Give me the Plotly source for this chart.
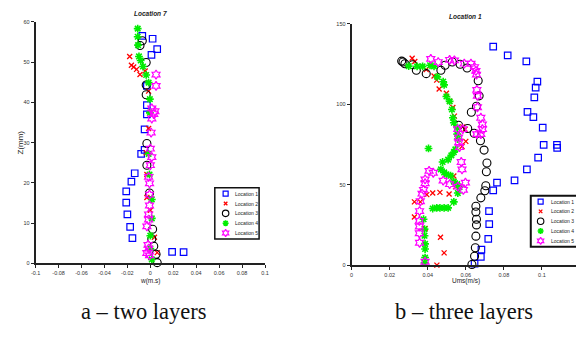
import plotly.graph_objects as go

# The page body adds an 8 px margin, so the figure is built 8 px smaller and
# every target pixel position is shifted by that offset.
PAGE_W, PAGE_H = 584, 348
OFF = 8
W, H = PAGE_W - OFF, PAGE_H - OFF

# ---------------- data: panel a (two layers), w (m/s) vs Z (mm) ----------------
a_loc1_x = [-0.007, 0.002, 0.006, 0.001, -0.003, -0.003, -0.003, -0.005, -0.005, -0.008, -0.0136, -0.0165, -0.021, -0.021, -0.020, -0.0176, -0.0156, 0.019, 0.029]
a_loc1_z = [56.5, 55.8, 53.2, 51.8, 44.1, 39.3, 37.0, 33.3, 28.2, 27.2, 22.4, 20.3, 17.9, 15.1, 12.2, 9.1, 6.3, 2.9, 2.8]
a_loc2_x = [-0.018, -0.0165, -0.0145, -0.012, -0.009, -0.0045, -0.0015, -0.0015, -0.0036, -0.003, -0.003, 0.0, 0.0036, 0.006]
a_loc2_z = [51.4, 49.2, 48.8, 48.2, 46.9, 47.8, 42.8, 33.5, 27.5, 22.1, 16.4, 13.2, 6.5, 2.7]
a_loc3_x = [-0.007, -0.009, -0.0036, -0.0036, -0.0036, -0.003, -0.003, -0.0007, 0.002, 0.0013, 0.003, 0.005, 0.006]
a_loc3_z = [55.3, 54.1, 49.9, 44.3, 41.9, 29.8, 24.4, 17.5, 8.5, 6.1, 4.3, 2.3, 0.2]
a_loc4_x = [-0.011, -0.011, -0.0107, -0.0099, -0.0084, -0.0064, -0.0036, -0.0015, -0.0004, -0.0004, -0.0015, -0.0007, 0.0013, 0.0013, 0.0, 0.0, 0.0013]
a_loc4_z = [58.3, 56.3, 54.2, 51.4, 50.4, 48.9, 46.8, 44.9, 40.8, 37.4, 27.2, 22.1, 15.9, 11.2, 6.9, 3.7, 1.0]
a_loc5_x = [0.005, 0.005, 0.0013, 0.004, 0.003, 0.0013, 0.0007, 0.0, 0.0013, 0.0, -0.0015, -0.0007, -0.0007, -0.0007, -0.0015, -0.0015, -0.003, -0.002, -0.0015, -0.003, -0.0007]
a_loc5_z = [46.9, 44.1, 38.5, 37.8, 37.1, 36.0, 32.5, 28.5, 26.4, 24.4, 21.5, 19.9, 17.1, 14.4, 12.2, 10.9, 9.2, 4.6, 3.7, 2.6, 2.0]

# ---------------- data: panel b (three layers), Ums (m/s) vs Z (mm) ----------------
b_loc1_x = [0.0744, 0.082, 0.0918, 0.0976, 0.0967, 0.096, 0.0924, 0.0955, 0.1004, 0.1009, 0.1079, 0.108, 0.098, 0.0921, 0.0856, 0.0764, 0.0744, 0.0722, 0.0723, 0.0718, 0.0682, 0.0679, 0.0646]
b_loc1_z = [135.8, 130.3, 126.6, 114.0, 110.3, 104.2, 95.2, 92.0, 85.5, 74.7, 74.7, 72.9, 66.8, 59.5, 52.7, 51.3, 46.4, 33.6, 25.5, 16.3, 9.6, 5.1, 1.0]
b_loc2_x = [0.0318, 0.0332, 0.0392, 0.0433, 0.0447, 0.046, 0.0498, 0.0515, 0.0532, 0.054, 0.0584, 0.0596, 0.058, 0.060, 0.0537, 0.0546, 0.0512, 0.0464, 0.0426, 0.0395, 0.033, 0.0361, 0.033, 0.0386, 0.0467, 0.0486, 0.0448]
b_loc2_z = [128.6, 126.6, 121.5, 117.5, 115.0, 109.5, 106.8, 101.8, 98.0, 92.6, 85.9, 84.5, 73.7, 76.9, 55.4, 48.8, 44.2, 45.2, 44.8, 43.8, 39.3, 39.3, 29.9, 22.8, 17.3, 7.6, 0.0]
b_loc3_x = [0.0263, 0.027, 0.028, 0.0321, 0.034, 0.0392, 0.0469, 0.0491, 0.0529, 0.057, 0.0607, 0.0665, 0.067, 0.0656, 0.0629, 0.0562, 0.061, 0.0644, 0.0677, 0.0696, 0.0711, 0.0708, 0.0705, 0.070, 0.0679, 0.0653, 0.0653, 0.0656, 0.0656, 0.0653, 0.065, 0.0646, 0.0632]
b_loc3_z = [126.8, 126.2, 125.2, 124.5, 121.1, 119.0, 121.1, 124.2, 126.2, 124.8, 122.5, 114.6, 105.2, 98.7, 95.0, 86.9, 84.9, 82.0, 77.3, 71.5, 63.5, 58.0, 49.3, 46.2, 41.8, 36.6, 33.0, 28.5, 25.0, 18.0, 10.8, 5.5, 0.4]
b_loc4_x = [0.030, 0.0344, 0.0373, 0.0412, 0.0433, 0.045, 0.0481, 0.0486, 0.0498, 0.0515, 0.0527, 0.0532, 0.0537, 0.0555, 0.0555, 0.0558, 0.0404, 0.0545, 0.0537, 0.0524, 0.0507, 0.0478, 0.0469, 0.0486, 0.0498, 0.052, 0.0537, 0.0555, 0.0567, 0.0558, 0.0537, 0.0507, 0.0486, 0.0464, 0.0447, 0.0426, 0.0378, 0.0383, 0.0383, 0.0386, 0.0386, 0.0386, 0.0383]
b_loc4_z = [123.7, 123.5, 123.5, 124.2, 123.5, 117.0, 114.0, 112.0, 104.8, 101.8, 96.7, 91.6, 88.5, 85.5, 81.4, 78.4, 72.5, 71.9, 70.2, 68.2, 65.6, 64.1, 59.5, 57.6, 56.4, 55.6, 51.9, 50.3, 48.5, 44.8, 39.3, 35.6, 35.6, 35.6, 35.6, 35.2, 28.5, 22.4, 18.3, 13.2, 10.0, 4.7, 1.4]
b_loc5_x = [0.0416, 0.0455, 0.0515, 0.054, 0.0592, 0.0627, 0.0646, 0.0653, 0.0656, 0.0658, 0.0661, 0.0661, 0.0679, 0.0687, 0.0687, 0.0679, 0.0658, 0.0558, 0.0584, 0.0562, 0.0567, 0.0563, 0.0576, 0.058, 0.0598, 0.0587, 0.0558, 0.0515, 0.0481, 0.0429, 0.0407, 0.0386, 0.0386, 0.0378, 0.037, 0.0361, 0.0357, 0.0356, 0.0356, 0.0356, 0.0357, 0.0386]
b_loc5_z = [128.2, 126.2, 127.6, 127.2, 125.2, 125.2, 123.1, 120.7, 118.4, 108.9, 105.2, 98.1, 91.6, 87.5, 84.5, 81.4, 81.4, 84.5, 84.5, 79.4, 73.3, 76.3, 64.1, 59.5, 51.3, 46.8, 48.8, 50.3, 52.5, 57.4, 58.6, 53.3, 50.9, 46.8, 44.4, 39.7, 33.6, 27.5, 24.0, 19.8, 13.9, 2.1]

series_names = ["Location 1", "Location 2", "Location 3", "Location 4", "Location 5"]

a_xtickvals = [-0.1, -0.08, -0.06, -0.04, -0.02, 0, 0.02, 0.04, 0.06, 0.08, 0.1]
a_xticktext = ["-0.1", "-0.08", "-0.06", "-0.04", "-0.02", "0", "0.02", "0.04", "0.06", "0.08", "0.1"]
a_ytickvals = [0, 10, 20, 30, 40, 50, 60]
b_xtickvals = [0, 0.02, 0.04, 0.06, 0.08, 0.1, 0.12]
b_xticktext = ["0", "0.02", "0.04", "0.06", "0.08", "0.1", "0.12"]
b_ytickvals = [0, 50, 100, 150]

# ---------------- styles ----------------
styles = [
    dict(symbol="square-open", size=6.5, color="#0000ff", line=dict(width=1.2, color="#0000ff")),
    dict(symbol="x-thin-open", size=5, color="#ff0000", line=dict(width=1.3, color="#ff0000")),
    dict(symbol="circle-open", size=8, color="#000000", line=dict(width=1.1, color="#000000")),
    dict(symbol="asterisk-open", size=6.5, color="#00ee00", line=dict(width=1.6, color="#00ee00")),
    dict(symbol="hexagram-open", size=7, color="#ff00ff", line=dict(width=1.2, color="#ff00ff")),
]

def px_x(p):
    return (p - OFF) / W

def px_y(p):
    return 1 - (p - OFF) / H

fig = go.Figure()

a_series = [(a_loc1_x, a_loc1_z), (a_loc2_x, a_loc2_z), (a_loc3_x, a_loc3_z), (a_loc4_x, a_loc4_z), (a_loc5_x, a_loc5_z)]
b_series = [(b_loc1_x, b_loc1_z), (b_loc2_x, b_loc2_z), (b_loc3_x, b_loc3_z), (b_loc4_x, b_loc4_z), (b_loc5_x, b_loc5_z)]

for (xs, zs), name, st in zip(a_series, series_names, styles):
    fig.add_trace(go.Scatter(x=xs, y=zs, mode="markers", name=name, marker=st,
                             xaxis="x", yaxis="y", showlegend=False, cliponaxis=False))
for (xs, zs), name, st in zip(b_series, series_names, styles):
    fig.add_trace(go.Scatter(x=xs, y=zs, mode="markers", name=name, marker=st,
                             xaxis="x2", yaxis="y2", showlegend=False, cliponaxis=False))

# ---------------- compact legends drawn by hand (pixel-positioned) ----------------
leg_boxes = [
    dict(x0=213, x1=258, y0=188, y1=240, mx=224, tx=232, lw=1.5),
    dict(x0=534, x1=582, y0=196, y1=248, mx=544, tx=552, lw=2),
]
small_leg = dict(size=5, color="#222", family="Liberation Sans, Arial")
for k, lb in enumerate(leg_boxes):
    xa, ya = "x%d" % (k + 3), "y%d" % (k + 3)
    n = len(series_names)
    rows = [(i + 0.5) / n for i in range(n)]
    for i, (name, st) in enumerate(zip(series_names, styles)):
        ms = dict(st)
        ms["size"] = st["size"] - 1.5
        fig.add_trace(go.Scatter(x=[lb["mx"]], y=[rows[i]], mode="markers", marker=ms,
                                 xaxis=xa, yaxis=ya, showlegend=False, cliponaxis=False,
                                 hoverinfo="skip"))
        fig.add_annotation(text=name, x=lb["tx"], y=rows[i], xref=xa, yref=ya,
                           showarrow=False, xanchor="left", yanchor="middle", font=small_leg)

tickfont = dict(size=5.5, color="#333", family="Liberation Sans, Arial")
axcommon = dict(showgrid=False, zeroline=False, showline=True, linecolor="#222", linewidth=2,
                ticks="outside", ticklen=3, tickwidth=1, tickcolor="#222", tickfont=tickfont,
                mirror=False)

fig.update_layout(
    width=W, height=H,
    margin=dict(l=0, r=0, t=0, b=0),
    paper_bgcolor="white", plot_bgcolor="rgba(0,0,0,0)",
    showlegend=False,
    xaxis=dict(domain=[px_x(31), px_x(264)], range=[-0.1, 0.1], tickvals=a_xtickvals,
               ticktext=a_xticktext, anchor="y", **axcommon),
    yaxis=dict(domain=[px_y(265), px_y(19)], range=[0, 60], tickvals=a_ytickvals,
               anchor="x", **axcommon),
    xaxis2=dict(domain=[px_x(352), 1.0], range=[0, 0.12], tickvals=b_xtickvals,
                ticktext=b_xticktext, anchor="y2", **axcommon),
    yaxis2=dict(domain=[px_y(266.7), px_y(21)], range=[0, 150], tickvals=b_ytickvals,
                anchor="x2", **axcommon),
)
for k, lb in enumerate(leg_boxes):
    fig.layout["xaxis%d" % (k + 3)] = dict(domain=[px_x(lb["x0"]), px_x(lb["x1"])],
                                           range=[lb["x0"], lb["x1"]], visible=False,
                                           anchor="y%d" % (k + 3))
    fig.layout["yaxis%d" % (k + 3)] = dict(domain=[px_y(lb["y1"] - 1), px_y(lb["y0"] + 1)],
                                           range=[1, 0], visible=False,
                                           anchor="x%d" % (k + 3))
    fig.add_shape(type="rect", xref="paper", yref="paper",
                  x0=px_x(lb["x0"]), x1=px_x(lb["x1"]), y0=px_y(lb["y1"]), y1=px_y(lb["y0"]),
                  line=dict(color="#111", width=lb["lw"]), fillcolor="white", layer="below")

small = dict(family="Liberation Sans, Arial", color="#222")
ann = [
    dict(text="<b><i>Location 7</i></b>", x=px_x(147.5), y=px_y(11), size=6.5),
    dict(text="<b><i>Location 1</i></b>", x=px_x(468), y=px_y(14), size=6.5),
    dict(text="w(m.s)", x=px_x(147.5), y=px_y(283), size=6.5),
    dict(text="Ums(m/s)", x=px_x(468), y=px_y(283), size=6.5),
]
for a in ann:
    fig.add_annotation(text=a["text"], x=a["x"], y=a["y"], xref="paper", yref="paper",
                       showarrow=False, xanchor="center", yanchor="middle",
                       font=dict(size=a["size"], **small))
fig.add_annotation(text="Z(mm)", x=px_x(16), y=px_y(142), xref="paper", yref="paper",
                   showarrow=False, textangle=-90, xanchor="center", yanchor="middle",
                   font=dict(size=8, **small))

serif = dict(family="Liberation Serif, Times New Roman", color="#111", size=22.5)
fig.add_annotation(text="a – two layers", x=px_x(141), y=px_y(314), xref="paper", yref="paper",
                   showarrow=False, xanchor="center", yanchor="middle", font=serif)
fig.add_annotation(text="b – three layers", x=px_x(466), y=px_y(314), xref="paper", yref="paper",
                   showarrow=False, xanchor="center", yanchor="middle", font=serif)

fig.write_html("out.html")
